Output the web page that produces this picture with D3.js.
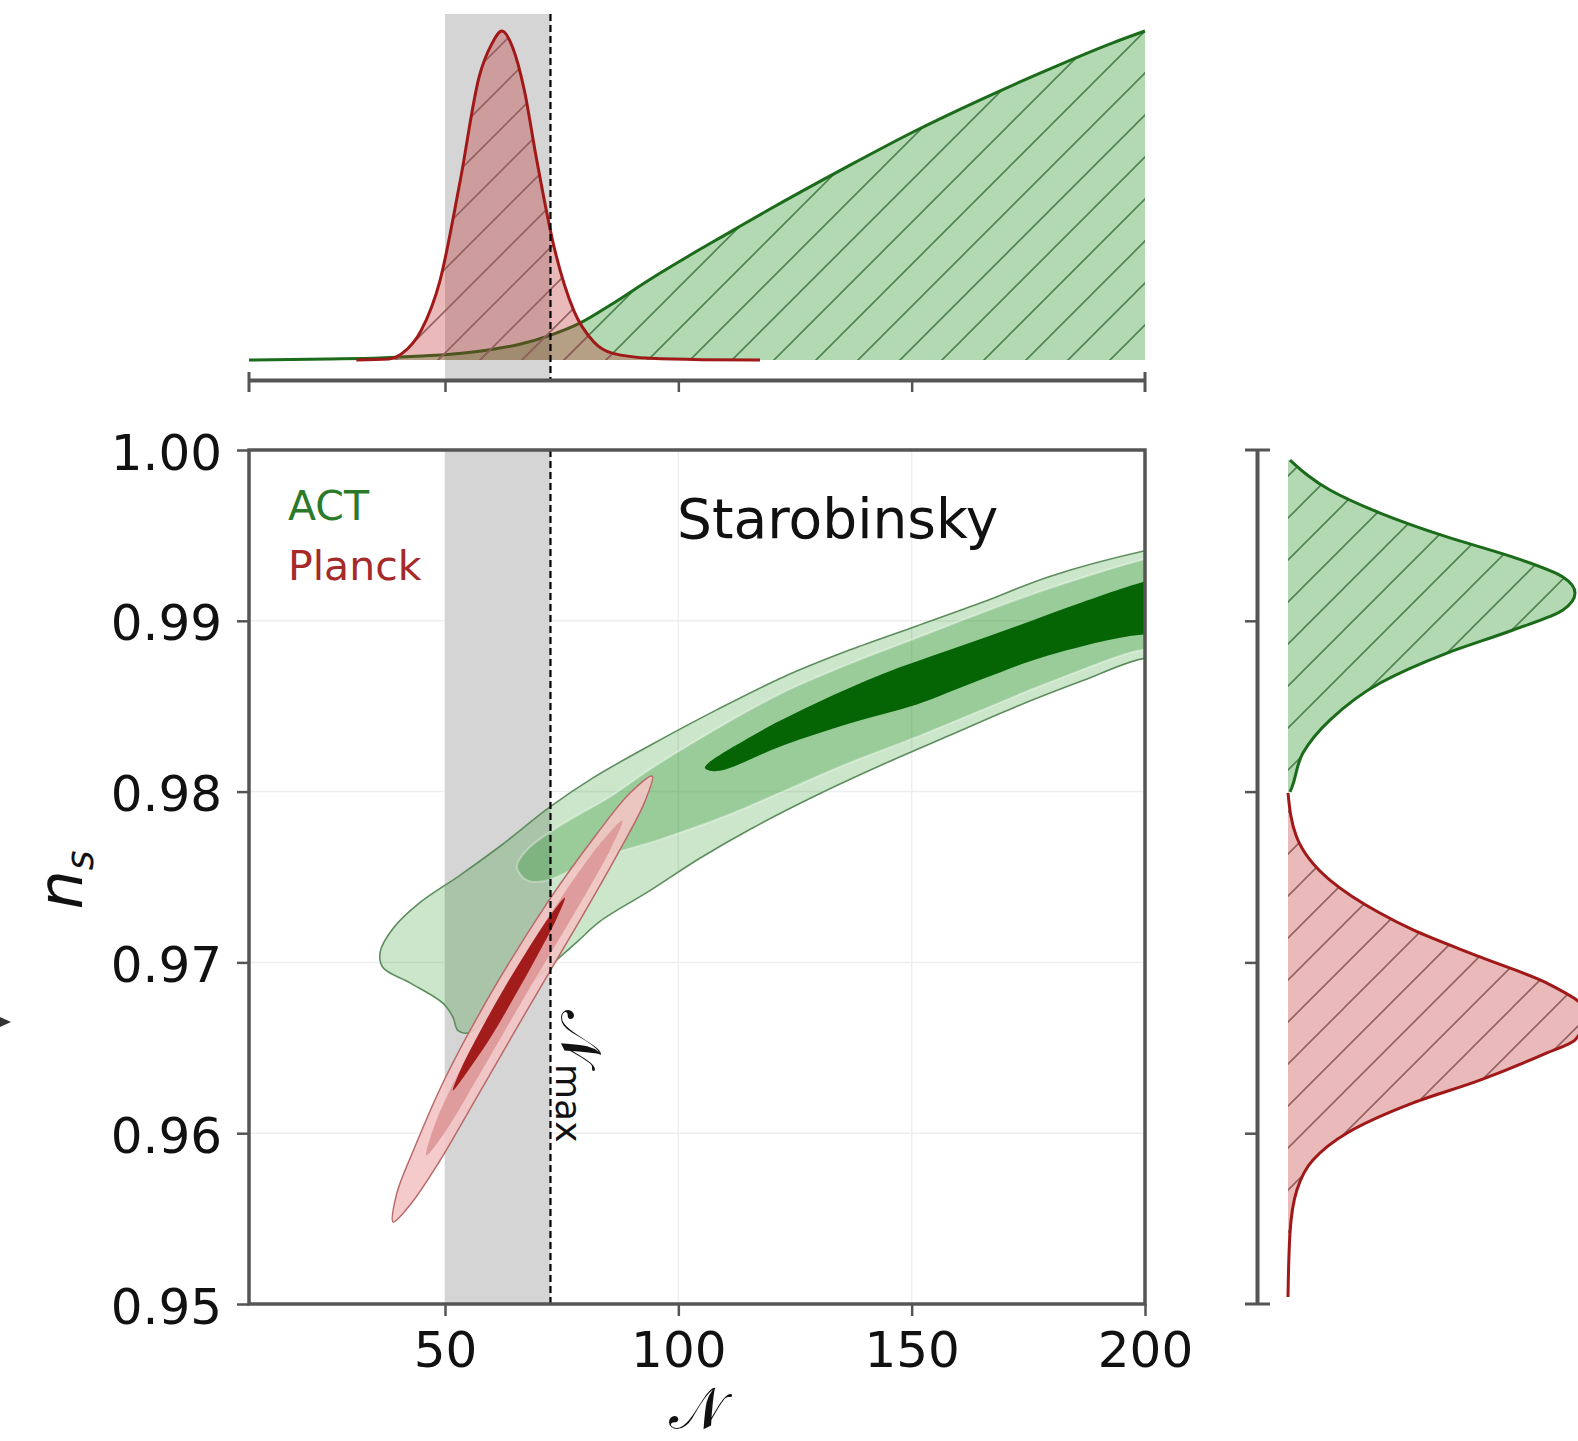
<!DOCTYPE html>
<html>
<head>
<meta charset="utf-8">
<script src="https://cdn.jsdelivr.net/npm/d3@7"></script>
<style>
  body { margin: 0; background: #fff; }
  svg { display: block; font-family: "DejaVu Sans", sans-serif; }
</style>
</head>
<body>
<svg id="chart" width="1578" height="1441"></svg>
<script>
// ---- data ----
const nTicks = [50, 100, 150, 200];
const nsTicks = [0.95, 0.96, 0.97, 0.98, 0.99, 1.00];
const nGrid = [50, 100, 150];
const nsGrid = [0.96, 0.97, 0.98, 0.99];
const nBand = [50, 72.6];
const nMax = 72.6;

// 2D contours, [N, n_s]
const actOuter = [[36.1,0.9706],[38.9,0.9720],[44.6,0.9735],[53.2,0.9751],[61.8,0.9768],[72.5,0.9791],[81.7,0.9808],[93.9,0.9827],[108.3,0.9848],[122.4,0.9867],[136.8,0.9883],[151.1,0.9897],[165.3,0.9911],[179.6,0.9926],[200,0.9941],[204,0.9943],[204,0.9876],[200,0.9878],[186.7,0.9865],[172.6,0.9850],[158.2,0.9833],[143.9,0.9816],[129.7,0.9798],[115.4,0.9778],[104.6,0.9761],[93.9,0.9742],[83.2,0.9724],[78.3,0.9712],[72.5,0.9698],[67.6,0.9686],[60.3,0.9671],[55.4,0.9659],[52.8,0.9660],[51.7,0.9668],[49.6,0.9676],[42.5,0.9688],[36.7,0.9697]];
const actMid = [[65.4,0.9756],[67.6,0.9766],[74.6,0.9780],[85.4,0.9797],[93.9,0.9813],[108.3,0.9837],[122.4,0.9858],[136.8,0.9875],[151.1,0.9890],[165.3,0.9905],[179.6,0.9919],[200,0.9936],[204,0.9938],[204,0.9881],[200,0.9883],[179.6,0.9864],[165.3,0.9848],[151.1,0.9832],[136.8,0.9817],[122.4,0.9800],[110.4,0.9786],[96.1,0.9772],[81.7,0.9760],[71.9,0.9748],[67.6,0.9748]];
const actInner = [[105.7,0.9814],[115.4,0.9832],[129.7,0.9852],[143.9,0.9869],[158.2,0.9883],[172.6,0.9897],[186.7,0.9911],[200,0.9923],[204,0.9925],[204,0.9890],[200,0.9892],[179.6,0.9880],[165.3,0.9866],[151.1,0.9851],[136.8,0.9840],[122.4,0.9827],[108.3,0.9812]];
const planckOuter = [[94.4,0.9809],[92.8,0.9794],[87.5,0.9766],[79.0,0.9725],[67.8,0.9673],[56.8,0.9621],[48.7,0.9583],[42.8,0.9559],[38.9,0.9548],[39.6,0.9564],[43.4,0.9591],[50.0,0.9632],[60.3,0.9684],[72.2,0.9736],[82.2,0.9774],[89.6,0.9799]];
const planckMid = [[88.0,0.9783],[85.4,0.9766],[78.2,0.9731],[67.5,0.9682],[57.1,0.9633],[50.1,0.9601],[46.0,0.9587],[47.8,0.9605],[53.6,0.9639],[63.4,0.9688],[74.7,0.9737],[83.1,0.9769]];
const planckInner = [[75.7,0.9738],[74.0,0.9726],[69.6,0.9703],[64.9,0.9680],[60.0,0.9657],[54.8,0.9636],[51.7,0.9625],[53.5,0.9638],[57.8,0.9661],[62.5,0.9684],[67.4,0.9706],[72.7,0.9728]];

// marginal of N (top), peak normalised to 1
const actTopN = [8, 25, 36, 45, 53, 60, 66, 72.5, 78.9, 86, 93.9, 102.3, 110.6, 118.8, 136.1, 150.3, 164.6, 179, 193.1, 200];
const actTopD = [0, 0.003, 0.006, 0.012, 0.02, 0.032, 0.048, 0.075, 0.112, 0.172, 0.245, 0.317, 0.385, 0.452, 0.587, 0.693, 0.79, 0.881, 0.964, 1.0];
const planckTopN = [31, 38, 40.8, 44.9, 48.9, 53.2, 57.3, 60, 62.2, 64.5, 67, 69.5, 73.6, 77.6, 81.9, 86, 94.1, 105, 117.5];
const planckTopD = [0, 0.003, 0.02, 0.09, 0.24, 0.54, 0.86, 0.96, 1.0, 0.95, 0.82, 0.62, 0.33, 0.15, 0.055, 0.02, 0.005, 0.001, 0];

// marginal of n_s (right)
const actRightNs = [0.99941, 0.99766, 0.99631, 0.99491, 0.99373, 0.99256, 0.99163, 0.99063, 0.98946, 0.98811, 0.98636, 0.98419, 0.98226, 0.98027, 0.97998];
const actRightD = [0.007, 0.146, 0.321, 0.554, 0.784, 0.958, 1.0, 0.958, 0.784, 0.554, 0.321, 0.146, 0.052, 0.014, 0.007];
const planckRightNs = [0.97992, 0.97734, 0.97482, 0.97289, 0.97190, 0.97032, 0.96879, 0.96700, 0.96546, 0.96469, 0.96311, 0.96177, 0.96001, 0.95843, 0.95667, 0.95416, 0.95041];
const planckRightD = [0.0, 0.03, 0.146, 0.32, 0.436, 0.669, 0.902, 1.04, 1.0, 0.90, 0.669, 0.436, 0.206, 0.087, 0.031, 0.007, 0.0];

// ---- scales ----
const x = d3.scaleLinear().domain([8, 200]).range([249, 1145]);
const y = d3.scaleLinear().domain([0.95, 1.00]).range([1304, 450]);
const yTop = d3.scaleLinear().domain([0, 1]).range([360, 31]);
const xRight = d3.scaleLinear().domain([0, 1]).range([1288, 1575]);

const GREEN = '#1b6b1b', RED = '#a01818', AXIS = '#555';

const svg = d3.select('#chart');
const defs = svg.append('defs');

defs.append('clipPath').attr('id', 'clipMain')
  .append('rect')
    .attr('x', x(8)).attr('y', y(1))
    .attr('width', x(200) - x(8)).attr('height', y(0.95) - y(1));

function hatch(id, color) {
  defs.append('pattern')
    .attr('id', id)
    .attr('patternUnits', 'userSpaceOnUse')
    .attr('width', 42).attr('height', 42)
    .append('path')
      .attr('d', 'M0,42L42,0M-10.5,10.5L10.5,-10.5M31.5,52.5L52.5,31.5')
      .attr('stroke', color)
      .attr('stroke-width', 1.6)
      .attr('fill', 'none');
}
hatch('hatchGreen', '#4f834f');
hatch('hatchRed', '#956060');

/////////////////////////////
// TOP PANEL
/////////////////////////////
const topPanel = svg.append('g');

topPanel.append('rect')
  .attr('x', x(nBand[0])).attr('y', 14)
  .attr('width', x(nBand[1]) - x(nBand[0])).attr('height', 380 - 14)
  .attr('fill', '#d5d5d5');

const areaTop = d3.area().curve(d3.curveMonotoneX)
  .x(d => x(d[0])).y0(yTop(0)).y1(d => yTop(d[1]));
const lineTop = d3.line().curve(d3.curveMonotoneX)
  .x(d => x(d[0])).y(d => yTop(d[1]));

const actTop = actTopN.map((n, i) => [n, actTopD[i]]);
const planckTop = planckTopN.map((n, i) => [n, planckTopD[i]]);

topPanel.append('path').datum(actTop).attr('d', areaTop).attr('fill', 'rgba(0,128,0,0.3)');
topPanel.append('path').datum(actTop).attr('d', areaTop).attr('fill', 'url(#hatchGreen)');
topPanel.append('path').datum(actTop).attr('d', lineTop)
  .attr('fill', 'none').attr('stroke', GREEN).attr('stroke-width', 3);

topPanel.append('path').datum(planckTop).attr('d', areaTop).attr('fill', 'rgba(190,40,40,0.32)');
topPanel.append('path').datum(planckTop).attr('d', areaTop).attr('fill', 'url(#hatchRed)');
topPanel.append('path').datum(planckTop).attr('d', lineTop)
  .attr('fill', 'none').attr('stroke', RED).attr('stroke-width', 3);

topPanel.append('line')
  .attr('x1', x(nMax)).attr('x2', x(nMax)).attr('y1', 14).attr('y2', 380)
  .attr('stroke', '#000').attr('stroke-width', 2.2).attr('stroke-dasharray', '7,4');

const topAxis = topPanel.append('g').attr('transform', 'translate(0,380)')
  .call(d3.axisBottom(x).tickValues(nGrid).tickFormat('').tickSize(12).tickSizeOuter(0));
topAxis.select('.domain').attr('stroke', AXIS).attr('stroke-width', 4);
topAxis.selectAll('.tick line').attr('stroke', AXIS).attr('stroke-width', 2.5);
topPanel.selectAll('.capTop').data([8, 200]).enter().append('line')
  .attr('x1', d => x(d)).attr('x2', d => x(d)).attr('y1', 372).attr('y2', 392)
  .attr('stroke', AXIS).attr('stroke-width', 3);

/////////////////////////////
// RIGHT PANEL
/////////////////////////////
const rightPanel = svg.append('g');
const areaRight = d3.area().curve(d3.curveMonotoneY)
  .y(d => y(d[0])).x0(xRight(0)).x1(d => xRight(d[1]));
const lineRight = d3.line().curve(d3.curveMonotoneY)
  .y(d => y(d[0])).x(d => xRight(d[1]));

const actRight = actRightNs.map((v, i) => [v, actRightD[i]]);
const planckRight = planckRightNs.map((v, i) => [v, planckRightD[i]]);

rightPanel.append('path').datum(actRight).attr('d', areaRight).attr('fill', 'rgba(0,128,0,0.3)');
rightPanel.append('path').datum(actRight).attr('d', areaRight).attr('fill', 'url(#hatchGreen)');
rightPanel.append('path').datum(actRight).attr('d', lineRight)
  .attr('fill', 'none').attr('stroke', GREEN).attr('stroke-width', 3);
rightPanel.append('path').datum(planckRight).attr('d', areaRight).attr('fill', 'rgba(190,40,40,0.32)');
rightPanel.append('path').datum(planckRight).attr('d', areaRight).attr('fill', 'url(#hatchRed)');
rightPanel.append('path').datum(planckRight).attr('d', lineRight)
  .attr('fill', 'none').attr('stroke', RED).attr('stroke-width', 3);

const rightAxis = rightPanel.append('g').attr('transform', 'translate(1257,0)')
  .call(d3.axisLeft(y).tickValues(nsGrid).tickFormat('').tickSize(12).tickSizeOuter(0));
rightAxis.select('.domain').attr('stroke', AXIS).attr('stroke-width', 4);
rightAxis.selectAll('.tick line').attr('stroke', AXIS).attr('stroke-width', 2.5);
rightPanel.selectAll('.capRight').data([0.95, 1.00]).enter().append('line')
  .attr('x1', 1245).attr('x2', 1270).attr('y1', d => y(d)).attr('y2', d => y(d))
  .attr('stroke', AXIS).attr('stroke-width', 3);

/////////////////////////////
// MAIN PANEL
/////////////////////////////
const mainPanel = svg.append('g');
const plot = mainPanel.append('g').attr('clip-path', 'url(#clipMain)');

plot.selectAll('.gx').data(nGrid).enter().append('line')
  .attr('x1', d => x(d)).attr('x2', d => x(d)).attr('y1', y(1)).attr('y2', y(0.95))
  .attr('stroke', '#eeeeee').attr('stroke-width', 1.5);
plot.selectAll('.gy').data(nsGrid).enter().append('line')
  .attr('x1', x(8)).attr('x2', x(200)).attr('y1', d => y(d)).attr('y2', d => y(d))
  .attr('stroke', '#eeeeee').attr('stroke-width', 1.5);

plot.append('rect')
  .attr('x', x(nBand[0])).attr('y', y(1))
  .attr('width', x(nBand[1]) - x(nBand[0])).attr('height', y(0.95) - y(1))
  .attr('fill', '#d5d5d5');

const contour = d3.line().curve(d3.curveCatmullRomClosed.alpha(0.5))
  .x(d => x(d[0])).y(d => y(d[1]));

plot.append('path').datum(actOuter).attr('d', contour)
  .attr('fill', 'rgba(0,128,0,0.2)').attr('stroke', '#5d8d5d').attr('stroke-width', 1.6);
plot.append('path').datum(actMid).attr('d', contour)
  .attr('fill', 'rgba(0,128,0,0.25)').attr('stroke', 'rgba(255,255,255,0.35)').attr('stroke-width', 2);
plot.append('path').datum(actInner).attr('d', contour)
  .attr('fill', '#056505');

plot.append('path').datum(planckOuter).attr('d', contour)
  .attr('fill', '#f4c4c4').attr('fill-opacity', 0.9).attr('stroke', '#b86a6a').attr('stroke-width', 1.5);
plot.append('path').datum(planckMid).attr('d', contour)
  .attr('fill', '#dc9494').attr('fill-opacity', 0.85);
plot.append('path').datum(planckInner).attr('d', contour)
  .attr('fill', '#a31c1c');

plot.append('line')
  .attr('x1', x(nMax)).attr('x2', x(nMax)).attr('y1', y(1)).attr('y2', y(0.95))
  .attr('stroke', '#000').attr('stroke-width', 2.2).attr('stroke-dasharray', '7,4');

// axes
const xAxis = mainPanel.append('g').attr('transform', `translate(0,${y(0.95)})`)
  .call(d3.axisBottom(x).tickValues(nTicks).tickSize(12).tickPadding(15).tickSizeOuter(0));
const yAxis = mainPanel.append('g').attr('transform', `translate(${x(8)},0)`)
  .call(d3.axisLeft(y).tickValues(nsTicks).tickFormat(d3.format('.2f')).tickSize(12).tickPadding(15).tickSizeOuter(0));
[xAxis, yAxis].forEach(a => {
  a.select('.domain').remove();
  a.selectAll('.tick line').attr('stroke', AXIS).attr('stroke-width', 2.5);
  a.selectAll('.tick text')
    .attr('font-size', 50).attr('fill', '#111')
    .attr('font-family', '"DejaVu Sans", sans-serif');
});
yAxis.selectAll('.tick text').attr('dy', '0.38em');

mainPanel.append('rect')
  .attr('x', x(8)).attr('y', y(1))
  .attr('width', x(200) - x(8)).attr('height', y(0.95) - y(1))
  .attr('fill', 'none').attr('stroke', AXIS).attr('stroke-width', 3.5);

// labels
mainPanel.append('text').attr('x', 677).attr('y', 538)
  .attr('font-size', 55).attr('fill', '#111').text('Starobinsky');
mainPanel.append('text').attr('x', 288).attr('y', 520)
  .attr('font-size', 41).attr('fill', '#2a7a2a').text('ACT');
mainPanel.append('text').attr('x', 288).attr('y', 580)
  .attr('font-size', 41).attr('fill', '#a52a2a').text('Planck');

const nsLabel = mainPanel.append('text')
  .attr('transform', 'translate(82,880) rotate(-90)')
  .attr('text-anchor', 'middle').attr('font-style', 'italic').attr('fill', '#111');
nsLabel.append('tspan').attr('font-size', 62).text('n');
nsLabel.append('tspan').attr('font-size', 38).attr('dy', 11).text('s');

mainPanel.append('text')
  .attr('x', 697).attr('y', 1428).attr('text-anchor', 'middle')
  .attr('font-size', 58).attr('fill', '#111').text('𝒩');

const nmaxLabel = mainPanel.append('text')
  .attr('transform', `translate(${x(nMax) + 12},1010) rotate(90)`)
  .attr('fill', '#111');
nmaxLabel.append('tspan').attr('font-size', 56).text('𝒩');
nmaxLabel.append('tspan').attr('font-size', 36).attr('dy', 6).text('max');

// small marker at left edge
svg.append('path')
  .attr('transform', 'translate(0,1022)')
  .attr('d', 'M0,-5L11,0L0,5Z')
  .attr('fill', '#333');
</script>
</body>
</html>
